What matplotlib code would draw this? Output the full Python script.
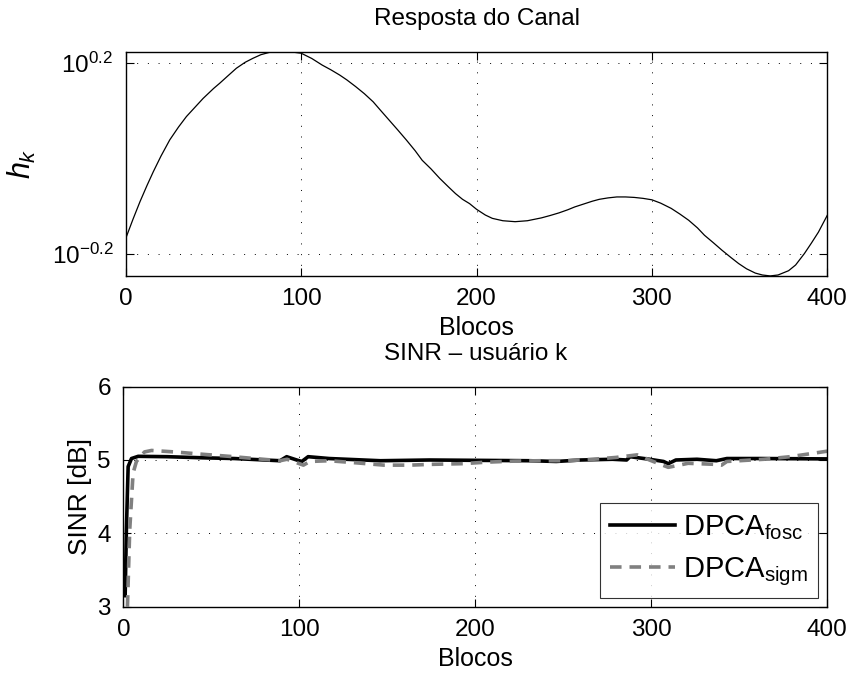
import numpy as np
import matplotlib
matplotlib.use("Agg")
import matplotlib.pyplot as plt

plt.rcParams['font.family'] = ['Liberation Sans', 'DejaVu Sans']
plt.rcParams['mathtext.fontset'] = 'custom'
plt.rcParams['mathtext.rm'] = 'Liberation Sans'
plt.rcParams['mathtext.it'] = 'Liberation Sans:italic'
plt.rcParams['mathtext.default'] = 'regular'

# Channel response (log10 of h_k) per block
canal_blocos = [0, 4, 8, 12, 15.6, 20, 25, 30, 34.5, 40, 44, 50, 53.5, 58, 63, 68, 72.5,
                77, 82, 87, 91, 95, 100, 106, 112, 117, 122, 126, 131, 136, 141, 145,
                150, 155, 160, 165, 169, 174, 179, 184, 188, 192, 196, 200, 205, 209,
                215, 222, 229, 237, 242, 247, 252, 256, 261, 266, 270, 275, 280, 285,
                290, 295, 300, 305, 311, 316, 321, 326, 330, 335, 340, 345, 349.5, 354,
                359, 363, 367.5, 372, 378, 382, 387, 391, 395, 400]
canal_log10 = [-0.167, -0.128, -0.091, -0.057, -0.028, 0.005, 0.039, 0.066, 0.088, 0.110,
               0.126, 0.147, 0.158, 0.173, 0.1895, 0.202, 0.2105, 0.218, 0.223, 0.2245,
               0.2245, 0.2235, 0.221, 0.210, 0.196, 0.186, 0.175, 0.165, 0.151, 0.136,
               0.119, 0.102, 0.081, 0.060, 0.0385, 0.016, -0.004, -0.022, -0.042, -0.060,
               -0.074, -0.086, -0.095, -0.107, -0.119, -0.126, -0.131, -0.133, -0.131,
               -0.125, -0.120, -0.1145, -0.108, -0.102, -0.096, -0.090, -0.086, -0.083,
               -0.081, -0.081, -0.082, -0.084, -0.087, -0.094, -0.105, -0.117, -0.130,
               -0.146, -0.1615, -0.177, -0.193, -0.208, -0.221, -0.232, -0.241, -0.245,
               -0.247, -0.245, -0.236, -0.224, -0.200, -0.178, -0.155, -0.120]

# SINR of user k [dB]
fosc_blocos = [1, 1.7, 2.7, 4.6, 8.4, 25, 45, 63, 89, 92.8, 98.5, 101.4, 105, 117,
               146, 174, 231, 246, 260, 278, 286, 288, 299, 307, 309.7, 314, 326,
               337, 343, 362, 400]
fosc_sinr = [3.15, 4.05, 4.91, 5.02, 5.05, 5.045, 5.03, 5.02, 4.99, 5.045, 5.0, 4.98,
             5.045, 5.02, 4.99, 5.0, 4.99, 4.98, 5.0, 5.01, 5.0, 5.045, 5.01, 4.98, 4.95,
             5.0, 5.01, 4.99, 5.02, 5.02, 5.015]

sigm_blocos = [2.3, 3.6, 5.5, 7.4, 12, 16, 29, 44, 60, 89, 93, 100, 102.3, 106, 117,
               133, 148, 163, 174, 193, 206, 222, 237, 252, 267, 280, 292, 299, 309.7,
               321, 337, 340, 343, 364, 379, 400]
sigm_sinr = [3.0, 4.05, 4.82, 4.98, 5.11, 5.13, 5.11, 5.08, 5.05, 4.99, 5.01, 4.95, 4.93,
             4.98, 4.99, 4.96, 4.93, 4.93, 4.94, 4.95, 4.97, 4.985, 4.99, 4.99, 5.01,
             5.035, 5.07, 5.0, 4.90, 4.955, 4.94, 4.93, 4.98, 5.01, 5.045, 5.12]

x_ticks = [0, 100, 200, 300, 400]
sinr_ticks = [3, 4, 5, 6]

fig = plt.figure(figsize=(8.51, 6.73), dpi=100)
ax1 = fig.add_axes([0.148, 0.590, 0.824, 0.333])
ax2 = fig.add_axes([0.145, 0.0985, 0.827, 0.327])

grid_kw = dict(color='black', linestyle=(0, (1, 10)), linewidth=0.7)
TICK = 17.5

# Top: channel response
h = 10 ** np.array(canal_log10)
ax1.plot(canal_blocos, h, color='black', linewidth=0.9)
ax1.set_yscale('log')
ax1.set_xlim(0, 400)
ax1.set_ylim(10 ** -0.247, 10 ** 0.224)
ax1.set_yticks([10 ** -0.2, 10 ** 0.2])
ax1.set_yticklabels([r'$10^{-0.2}$', r'$10^{0.2}$'])
ax1.yaxis.set_minor_locator(matplotlib.ticker.NullLocator())
ax1.set_xticks(x_ticks)
ax1.set_xlabel('Blocos', fontsize=18, labelpad=4)
ax1.set_ylabel(r'$\mathit{h}_{\mathit{k}}$', fontsize=22, labelpad=10)
ax1.set_title('Resposta do Canal', fontsize=17.5, pad=19)
ax1.grid(True, **grid_kw)

# Bottom: SINR
ax2.plot(fosc_blocos, fosc_sinr, color='black', linewidth=2.6, label=r'DPCA$_{\mathrm{fosc}}$')
ax2.plot(sigm_blocos, sigm_sinr, color='#808080', linewidth=2.6, linestyle=(0, (3.2, 2.2)),
         label=r'DPCA$_{\mathrm{sigm}}$')
ax2.set_xlim(0, 400)
ax2.set_ylim(3, 6)
ax2.set_xticks(x_ticks)
ax2.set_yticks(sinr_ticks)
ax2.set_xlabel('Blocos', fontsize=18, labelpad=4)
ax2.set_ylabel('SINR [dB]', fontsize=19, labelpad=4)
ax2.set_title(u'SINR \u2013 usu\u00e1rio k', fontsize=17.5, pad=19)
ax2.grid(True, **grid_kw)
leg = ax2.legend(loc='lower right', fontsize=21, handlelength=2.2, frameon=True,
                 fancybox=False, edgecolor='black', borderaxespad=0.3,
                 handletextpad=0.3, labelspacing=0.45, borderpad=0.35)
leg.get_frame().set_linewidth(0.8)

for ax in (ax1, ax2):
    ax.tick_params(axis='both', which='both', direction='in', top=True, right=True,
                   labelsize=TICK, length=6, width=0.8, pad=9)
    for s in ax.spines.values():
        s.set_linewidth(1.0)

fig.savefig('out.png', dpi=100, facecolor='white')
